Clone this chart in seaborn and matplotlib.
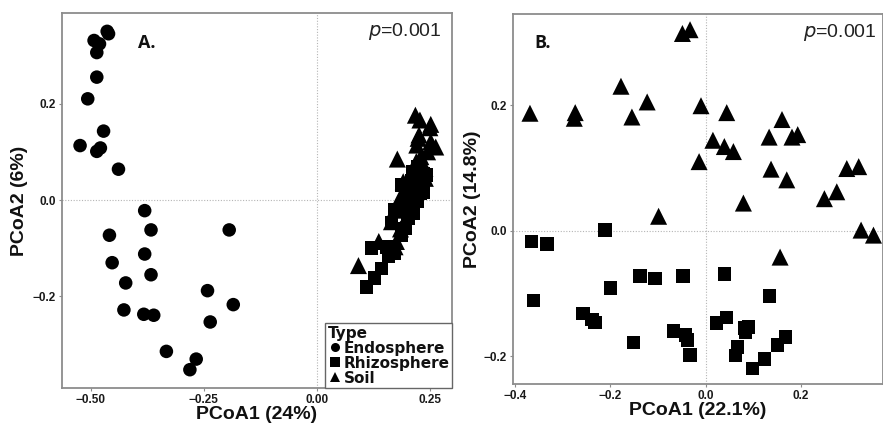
import matplotlib
matplotlib.use("Agg")
import matplotlib.pyplot as plt
import seaborn as sns
import pandas as pd

# ---------------- Panel A data ----------------
endo_a_x = [-0.464, -0.461, -0.493, -0.481, -0.487, -0.487, -0.507, -0.472, -0.524, -0.479,
            -0.487, -0.439, -0.381, -0.367, -0.194, -0.459, -0.381, -0.453, -0.367, -0.423,
            -0.242, -0.185, -0.427, -0.383, -0.361, -0.236, -0.333, -0.267, -0.281]
endo_a_y = [0.350, 0.345, 0.331, 0.324, 0.306, 0.255, 0.210, 0.143, 0.113, 0.108,
            0.101, 0.064, -0.022, -0.062, -0.062, -0.073, -0.112, -0.130, -0.155, -0.172,
            -0.188, -0.217, -0.228, -0.237, -0.239, -0.253, -0.314, -0.330, -0.352]

rhizo_a_x = [0.110, 0.128, 0.143, 0.121, 0.158, 0.172, 0.165, 0.195, 0.172, 0.213,
             0.195, 0.228, 0.202, 0.187, 0.210, 0.232, 0.213, 0.236, 0.243, 0.221,
             0.202, 0.187, 0.154, 0.172, 0.198, 0.221, 0.236, 0.206, 0.224]
rhizo_a_y = [-0.180, -0.162, -0.142, -0.100, -0.117, -0.100, -0.048, -0.059, -0.021, -0.028,
             -0.010, 0.014, 0.017, 0.031, 0.041, 0.038, 0.059, 0.055, 0.052, -0.003,
             -0.038, -0.073, -0.097, -0.110, 0.024, 0.024, 0.017, 0.003, 0.069]

soil_a_x = [0.218, 0.228, 0.252, 0.250, 0.226, 0.224, 0.252, 0.263, 0.221, 0.178,
            0.230, 0.239, 0.232, 0.191, 0.205, 0.187, 0.215, 0.172, 0.165, 0.137,
            0.176, 0.173, 0.092, 0.240, 0.210, 0.200, 0.220, 0.245, 0.185]
soil_a_y = [0.176, 0.166, 0.157, 0.150, 0.135, 0.128, 0.121, 0.110, 0.114, 0.085,
            0.090, 0.066, 0.055, 0.038, 0.030, 0.010, 0.005, -0.021, -0.045, -0.086,
            -0.086, -0.097, -0.136, 0.045, 0.020, 0.000, 0.080, 0.100, -0.060]

# ---------------- Panel B data ----------------
soil_b_x = [-0.049, -0.033, -0.178, -0.369, -0.274, -0.276, -0.123, -0.155, -0.010, 0.044,
            0.160, 0.015, 0.133, 0.181, 0.193, 0.039, 0.058, -0.014, 0.137, 0.296,
            0.321, 0.170, 0.275, 0.249, 0.079, -0.099, 0.326, 0.352, 0.156]
soil_b_y = [0.314, 0.320, 0.230, 0.187, 0.188, 0.179, 0.205, 0.181, 0.199, 0.188,
            0.177, 0.144, 0.149, 0.149, 0.153, 0.134, 0.126, 0.110, 0.098, 0.099,
            0.102, 0.081, 0.062, 0.051, 0.044, 0.023, 0.001, -0.007, -0.042]

rhizo_b_x = [-0.211, -0.366, -0.333, -0.138, -0.106, -0.048, 0.039, -0.200, 0.134, -0.362,
             -0.258, -0.239, -0.232, 0.023, 0.044, -0.068, -0.043, -0.038, -0.152, 0.081,
             0.090, 0.083, 0.167, 0.151, 0.067, 0.062, -0.033, 0.123, 0.098]
rhizo_b_y = [0.001, -0.017, -0.021, -0.072, -0.076, -0.072, -0.069, -0.091, -0.104, -0.111,
             -0.132, -0.141, -0.146, -0.147, -0.138, -0.160, -0.166, -0.174, -0.178, -0.155,
             -0.153, -0.161, -0.169, -0.182, -0.185, -0.199, -0.198, -0.204, -0.219]

type_order = ["Endosphere", "Rhizosphere", "Soil"]
marker_map = {"Endosphere": "o", "Rhizosphere": "s", "Soil": "^"}
size_map = {"Endosphere": 95, "Rhizosphere": 95, "Soil": 150}

df_a = pd.DataFrame({
    "x": endo_a_x + rhizo_a_x + soil_a_x,
    "y": endo_a_y + rhizo_a_y + soil_a_y,
    "Type": ["Endosphere"] * len(endo_a_x) + ["Rhizosphere"] * len(rhizo_a_x) + ["Soil"] * len(soil_a_x),
})
df_b = pd.DataFrame({
    "x": rhizo_b_x + soil_b_x,
    "y": rhizo_b_y + soil_b_y,
    "Type": ["Rhizosphere"] * len(rhizo_b_x) + ["Soil"] * len(soil_b_x),
})

sns.set_theme(style="white")
plt.rcParams["font.family"] = ["Liberation Sans", "DejaVu Sans"]
plt.rcParams["text.color"] = "#111111"
plt.rcParams["axes.labelcolor"] = "#111111"

fig = plt.figure(figsize=(8.83, 4.23), dpi=100)
ax_a = fig.add_axes([0.0702, 0.0827, 0.4417, 0.8865])
ax_b = fig.add_axes([0.5813, 0.0922, 0.4187, 0.8747])

spine_col = "#8c8c8c"
tick_col = "#1a1a1a"

def style_ax(ax):
    for s in ax.spines.values():
        s.set_color(spine_col)
        s.set_linewidth(1.3)
    ax.axhline(0, ls=(0, (1, 1.5)), color="#b5b5b5", lw=0.8, zorder=0)
    ax.axvline(0, ls=(0, (1, 1.5)), color="#b5b5b5", lw=0.8, zorder=0)
    ax.tick_params(axis="both", which="both", length=2.5, width=0.8, color=spine_col,
                   labelsize=8.5, labelcolor=tick_col, pad=2,
                   bottom=True, left=True)
    for lab in ax.get_xticklabels() + ax.get_yticklabels():
        lab.set_fontweight("bold")

# Panel A
sns.scatterplot(data=df_a, x="x", y="y", style="Type", style_order=type_order,
                size="Type", sizes=size_map, size_order=type_order,
                markers=marker_map, color="black", linewidth=0, ax=ax_a, zorder=3)
ax_a.set_xlim(-0.564, 0.299)
ax_a.set_ylim(-0.39, 0.388)
ax_a.set_xticks([-0.50, -0.25, 0.00, 0.25])
ax_a.set_xticklabels(["\u22120.50", "\u22120.25", "0.00", "0.25"])
ax_a.set_yticks([-0.2, 0.0, 0.2])
ax_a.set_yticklabels(["\u22120.2", "0.0", "0.2"])
ax_a.set_xlabel("PCoA1 (24%)", fontsize=14, fontweight="bold", labelpad=0)
ax_a.set_ylabel("PCoA2 (6%)", fontsize=14, fontweight="bold", labelpad=3)
style_ax(ax_a)
ax_a.text(-0.377, 0.325, "A.", fontsize=13, fontweight="bold", ha="center", va="center",
          family=["Open Sans", "DejaVu Sans"])
ax_a.text(0.277, 0.349, r"$\it{p}$=0.001", fontsize=14, ha="right", va="center", color="#222222")

handles, labels = ax_a.get_legend_handles_labels()
for h in handles:
    h.set_markersize(6.5)
    h.set_color("black")
    h.set_markeredgewidth(0)
leg_font = {"family": ["DejaVu Sans"], "weight": "bold", "size": 11}
leg = ax_a.legend(handles, labels, title="Type", loc="lower right", bbox_to_anchor=(1.0, 0.0),
                  borderaxespad=0.0, frameon=True, fancybox=False, edgecolor="#666666",
                  framealpha=1, handletextpad=0.15, labelspacing=0.0, handlelength=0.9,
                  borderpad=0.15, prop=leg_font, title_fontproperties=leg_font)
leg._legend_box.align = "left"
leg.get_frame().set_linewidth(1.0)

# Panel B
sns.scatterplot(data=df_b, x="x", y="y", style="Type", style_order=["Rhizosphere", "Soil"],
                size="Type", sizes=size_map, size_order=["Rhizosphere", "Soil"],
                markers=marker_map, color="black", linewidth=0, ax=ax_b, zorder=3,
                legend=False)
ax_b.set_xlim(-0.404, 0.372)
ax_b.set_ylim(-0.244, 0.345)
ax_b.set_xticks([-0.4, -0.2, 0.0, 0.2])
ax_b.set_xticklabels(["\u22120.4", "\u22120.2", "0.0", "0.2"])
ax_b.set_yticks([-0.2, 0.0, 0.2])
ax_b.set_yticklabels(["\u22120.2", "0.0", "0.2"])
ax_b.set_xlabel("PCoA1 (22.1%)", fontsize=14, fontweight="bold", labelpad=0)
ax_b.set_ylabel("PCoA2 (14.8%)", fontsize=14, fontweight="bold", labelpad=2)
style_ax(ax_b)
ax_b.text(-0.342, 0.299, "B.", fontsize=13, fontweight="bold", ha="center", va="center",
          family=["Open Sans", "DejaVu Sans"])
ax_b.text(0.359, 0.315, r"$\it{p}$=0.001", fontsize=14, ha="right", va="center", color="#222222")

fig.savefig("out.png", dpi=100)
